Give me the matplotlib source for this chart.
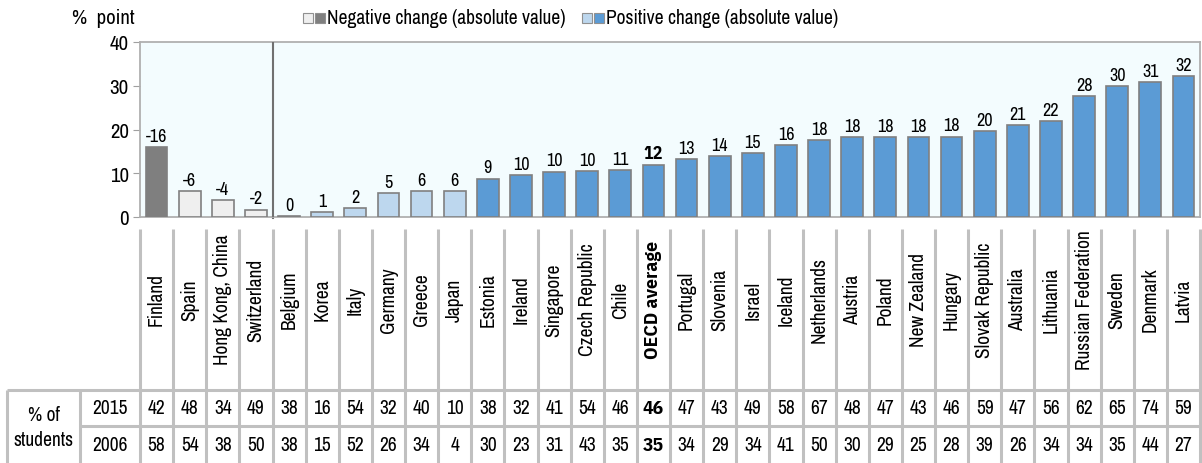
import numpy as np
import matplotlib
matplotlib.use("Agg")
import matplotlib.pyplot as plt
from matplotlib.patches import Rectangle

plt.rcParams["font.family"] = ["Archivo Narrow", "Liberation Sans", "DejaVu Sans"]
BOLD_FAM = ["IBM Plex Sans Condensed", "Liberation Sans", "DejaVu Sans"]

countries = ["Finland", "Spain", "Hong Kong, China", "Switzerland", "Belgium", "Korea", "Italy",
             "Germany", "Greece", "Japan", "Estonia", "Ireland", "Singapore", "Czech Republic",
             "Chile", "OECD average", "Portugal", "Slovenia", "Israel", "Iceland", "Netherlands",
             "Austria", "Poland", "New Zealand", "Hungary", "Slovak Republic", "Australia",
             "Lithuania", "Russian Federation", "Sweden", "Denmark", "Latvia"]
change_abs = [16.0, 5.9, 3.8, 1.7, 0.2, 1.15, 2.1, 5.4, 5.9, 6.0, 8.8, 9.7, 10.4, 10.5, 10.8, 11.9,
              13.3, 13.9, 14.6, 16.4, 17.6, 18.2, 18.2, 18.2, 18.4, 19.7, 21.0, 22.0, 27.6, 30.0,
              30.9, 32.3]
change_labels = [-16, -6, -4, -2, 0, 1, 2, 5, 6, 6, 9, 10, 10, 10, 11, 12, 13, 14, 15, 16, 18, 18,
                 18, 18, 18, 20, 21, 22, 28, 30, 31, 32]
# N = negative significant, n = negative not sig, p = positive not sig, P = positive significant
change_type = ["N", "n", "n", "n", "p", "p", "p", "p", "p", "p"] + ["P"] * 22
pct_2015 = [42, 48, 34, 49, 38, 16, 54, 32, 40, 10, 38, 32, 41, 54, 46, 46, 47, 43, 49, 58, 67, 48,
            47, 43, 46, 59, 47, 56, 62, 65, 74, 59]
pct_2006 = [58, 54, 38, 50, 38, 15, 52, 26, 34, 4, 30, 23, 31, 43, 35, 35, 34, 29, 34, 41, 50, 30,
            29, 25, 28, 39, 26, 34, 34, 35, 44, 27]

colors = {"N": "#7f7f7f", "n": "#efefef", "p": "#bdd7ee", "P": "#5b9bd5"}
W, H = 1202, 464
fig = plt.figure(figsize=(W / 100, H / 100), dpi=100)


def style(name):
    # the OECD average column is set in bold
    if name == "OECD average":
        return dict(family=BOLD_FAM, fontweight="bold")
    return {}


x0, x1 = 140, 1200
ytop, ybot = 43, 218
ax = fig.add_axes([x0 / W, 1 - ybot / H, (x1 - x0) / W, (ybot - ytop) / H])
ax.set_facecolor("#f3fcfe")
x = np.arange(len(countries))
ax.bar(x, change_abs, width=0.66, color=[colors[t] for t in change_type],
       edgecolor="#808080", linewidth=1.2, zorder=3)
for i, (v, lab) in enumerate(zip(change_abs, change_labels)):
    ax.text(i, v + 0.7, str(lab), ha="center", va="bottom", fontsize=13, **style(countries[i]))
ax.set_xlim(-0.5, len(countries) - 0.5)
ax.set_ylim(0, 40)
ax.set_yticks([0, 10, 20, 30, 40])
ax.tick_params(axis="y", labelsize=15, length=5, color="#a0a0a0", pad=3)
ax.set_xticks([])
for s in ["top", "left", "bottom", "right"]:
    ax.spines[s].set_color("#b0b0b0")
    ax.spines[s].set_linewidth(1.3)
ax.axvline(3.5, ymin=0, ymax=1, color="#707070", lw=1.5, zorder=4)
ax.plot([3.5, 3.5], [0, -0.3], color="#707070", lw=1.5, clip_on=False)

fig.text(72 / W, 1 - 18 / H, "%  point", fontsize=15, va="center", ha="left")


# legend
def legend_item(xs, c1, c2, label):
    for k, c in enumerate([c1, c2]):
        fig.patches.append(Rectangle(((xs + k * 12) / W, 1 - 24 / H), 10 / W, 10 / H,
                                     facecolor=c, edgecolor="#909090", lw=0.8,
                                     transform=fig.transFigure, figure=fig))
    fig.text((xs + 24) / W, 1 - 19 / H, label, fontsize=14, va="center", ha="left")


legend_item(303, colors["n"], colors["N"], "Negative change (absolute value)")
legend_item(582, colors["p"], colors["P"], "Positive change (absolute value)")

# category labels + table
ylo = 230
ax2 = fig.add_axes([x0 / W, 0, (x1 - x0) / W, (H - ylo) / H], sharex=ax)
ax2.set_ylim(H, ylo)
ax2.axis("off")
gl = dict(color="#c0c0c0", lw=2.2, clip_on=False, solid_capstyle="butt")
for b in np.arange(-0.5, len(countries) + 0.5, 1.0):
    ax2.plot([b, b], [ylo, H], **gl)
xl = -0.5 - (x0 - 7) / ((x1 - x0) / len(countries))
xm = -0.5 - (x0 - 80) / ((x1 - x0) / len(countries))
ax2.plot([xl, len(countries) - 0.5], [391, 391], **gl)
ax2.plot([xm, len(countries) - 0.5], [427, 427], **gl)
ax2.plot([xl, xl], [391, H], **gl)
ax2.plot([xm, xm], [391, H], **gl)
for i, c in enumerate(countries):
    ax2.text(i, 300, c, rotation=90, ha="center", va="center", fontsize=14, **style(c))
    ax2.text(i, 409, str(pct_2015[i]), ha="center", va="center", fontsize=14, **style(c))
    ax2.text(i, 446, str(pct_2006[i]), ha="center", va="center", fontsize=14, **style(c))
ax2.text((xm - 0.5) / 2, 409, "2015", ha="center", va="center", fontsize=14)
ax2.text((xm - 0.5) / 2, 446, "2006", ha="center", va="center", fontsize=14)
ax2.text((xl + xm) / 2, 428, "% of\nstudents", ha="center", va="center", fontsize=14,
         linespacing=1.45)

fig.savefig("out.png", dpi=100)
